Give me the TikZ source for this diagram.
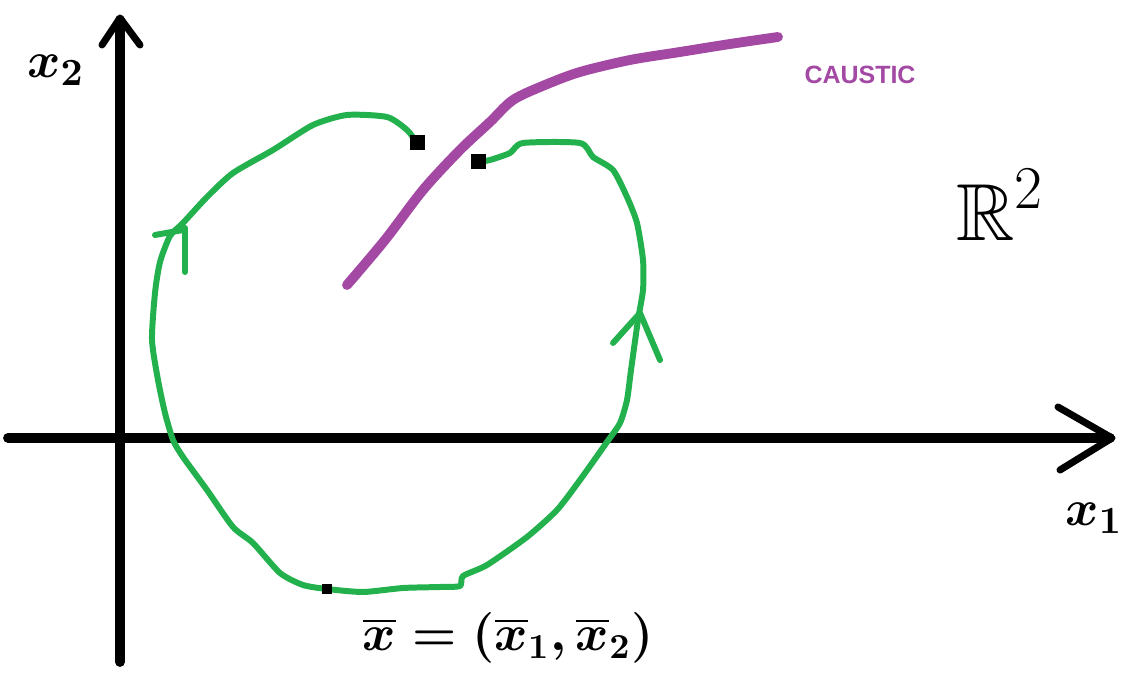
\documentclass[tikz,border=0pt]{standalone}
\usepackage{amsmath,amssymb}
\usepackage{fontspec}
\newfontfamily\causticfont{Liberation Sans}
\usepackage{tikz}
\usepackage{xcolor}
\definecolor{pathgreen}{RGB}{34,177,76}
\definecolor{causticpurple}{RGB}{163,73,164}

\begin{document}
\begin{tikzpicture}[x=0.01cm, y=-0.01cm, line cap=round, line join=round,
    sq/.style={fill=black, inner sep=0pt, minimum size=0.15cm}]
    \useasboundingbox (0,0) rectangle (1128,683);
    % axes
    \draw[line width=2.8pt] (120,662) -- (120,20);
    \draw[line width=2pt] (102,45) -- (120,18) -- (140,45);
    \draw[line width=2.8pt] (8,438) -- (1110,438);
    \draw[line width=2pt] (1058,407) -- (1112,438) -- (1060,470);
    \node[font=\boldmath\fontsize{15}{15}\selectfont] (xtwo) at (56,70) {$x_2$};
    \node[font=\boldmath\fontsize{15}{15}\selectfont] (xone) at (1094,518) {$x_1$};
    \node[font=\fontsize{23}{23}\selectfont] (rtwo) at (1000,205) {$\mathbb{R}^2$};
    % caustic
    \draw[causticpurple, line width=2.8pt] plot[smooth, tension=0.5] coordinates {(347,285) (385,240) (423,190) (460,150) (490,122) (513,100) (545,85) (580,72) (630,60) (680,52) (730,44) (778,37)};
    \node[causticpurple, font=\causticfont\bfseries\fontsize{7.1}{7.1}\selectfont] (caustic) at (860,75) {CAUSTIC};
    % points
    \coordinate (a) at (417,143);
    \coordinate (b) at (478,162);
    \coordinate (c) at (327,589);
    % green path
    \draw[pathgreen, line width=1.7pt] plot[smooth, tension=0.4] coordinates {(a) (407,130) (387,117) (347,115) (313,125) (273,150) (233,173) (207,197) (183,223) (170,236) (160,262) (155,293) (152,340) (158,380) (165,413) (173,440) (183,457) (207,490) (233,527) (253,543) (280,573) (303,585) (c) (363,592) (403,588) (440,587) (460,586) (463,576) (487,565) (527,537) (557,510) (580,480) (607,442) (620,423) (627,400) (631,370) (638,320) (643,290) (643,260) (637,223) (627,197) (613,170) (593,157) (580,143) (523,143) (510,153) (490,160) (b)};
    \draw[pathgreen, line width=1.7pt] (155,235) -- (183,230);
    \draw[pathgreen, line width=1.7pt] (185,228) -- (185,272);
    \draw[pathgreen, line width=1.7pt] (613,343) -- (640,313) -- (660,360);
    \node[sq] (p1) at (a) {};
    \node[sq] (p2) at (b) {};
    \node[sq, minimum size=0.1cm] (xbar) at (c) {};
    \node[font=\boldmath\fontsize{14}{14}\selectfont] (formula) at (508,638) {$\overline{x} = (\overline{x}_1, \overline{x}_2)$};
\end{tikzpicture}
\end{document}
